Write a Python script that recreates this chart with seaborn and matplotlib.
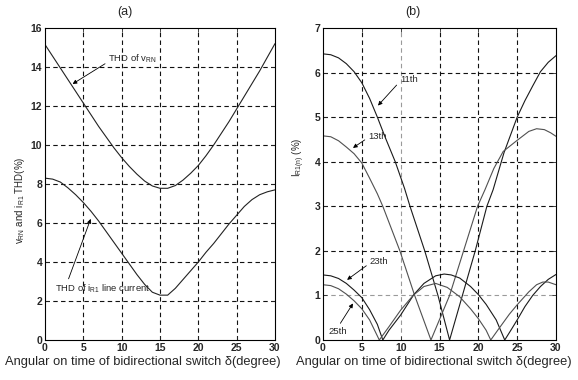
import matplotlib
matplotlib.use("Agg")
import matplotlib.pyplot as plt
import seaborn as sns
import pandas as pd

# ---------------- data ----------------
# (a) THD curves
a_x = list(range(0, 31))
thd_vrn = [15.15, 14.55, 13.95, 13.35, 12.75, 12.15, 11.55, 10.95, 10.4, 9.85, 9.35,
           8.9, 8.5, 8.15, 7.9, 7.78, 7.78, 7.92, 8.2, 8.55, 8.95, 9.45, 10.0, 10.6,
           11.2, 11.85, 12.5, 13.15, 13.8, 14.5, 15.2]
thd_ir1 = [8.3, 8.25, 8.1, 7.8, 7.45, 7.05, 6.6, 6.1, 5.55, 5.0, 4.45, 3.9, 3.35, 2.85,
           2.45, 2.3, 2.3, 2.65, 3.1, 3.55, 4.0, 4.5, 4.95, 5.45, 5.95, 6.4, 6.85, 7.2,
           7.45, 7.6, 7.7]

# (b) harmonic components
h11_x = [0, 1, 2, 3, 4, 5, 6, 7, 8, 9.3, 10.5, 11.2, 13.1, 14.8, 16.3,
         17.95, 19.6, 21.1, 21.9, 23.3, 25.0, 26, 27, 28, 29, 30]
h11_y = [6.42, 6.4, 6.33, 6.2, 6.02, 5.77, 5.42, 5.0, 4.55, 4.0, 3.4, 3.0, 2.0, 1.0, 0.0,
         1.0, 2.0, 3.0, 3.37, 4.2, 5.0, 5.37, 5.7, 6.02, 6.23, 6.38]
h13_x = [0, 1, 2, 3, 4, 5, 6, 7, 7.7, 9.9, 11.8, 13.9, 16.3, 18.1, 19.9, 20.85,
         22, 23.2, 25, 26.5, 27.5, 28.5, 29.3, 30]
h13_y = [4.58, 4.56, 4.47, 4.33, 4.18, 3.97, 3.63, 3.28, 3.0, 2.0, 1.0, 0.0, 1.0, 2.0,
         3.0, 3.37, 3.85, 4.23, 4.48, 4.68, 4.74, 4.72, 4.65, 4.57]
h23_x = [0, 1, 2, 3, 4, 5, 6, 7, 7.7, 8.5, 10, 11.7, 13, 14.5, 15.6, 16.5, 17.6,
         19, 20, 21, 22.3, 23.4, 24.3, 25, 26, 27, 28, 29, 30]
h23_y = [1.46, 1.44, 1.38, 1.27, 1.12, 0.95, 0.68, 0.35, 0.0, 0.22, 0.56, 1.02, 1.27, 1.44,
         1.48, 1.46, 1.39, 1.2, 1.02, 0.8, 0.45, 0.0, 0.25, 0.45, 0.75, 1.0, 1.2, 1.36, 1.47]
h25_x = [0, 1, 2, 3, 4, 5, 6, 7.25, 8.5, 10, 11.6, 13, 14.5, 16, 17.6, 19, 20, 21,
         21.6, 22.5, 24, 25, 26.5, 27.5, 28.3, 29, 30]
h25_y = [1.24, 1.22, 1.15, 1.03, 0.88, 0.70, 0.45, 0.0, 0.3, 0.67, 1.0, 1.2, 1.27, 1.18,
         0.97, 0.7, 0.48, 0.22, 0.0, 0.22, 0.58, 0.79, 1.08, 1.24, 1.3, 1.3, 1.24]

x_ticks = [0, 5, 10, 15, 20, 25, 30]
a_yticks = [0, 2, 4, 6, 8, 10, 12, 14, 16]
b_yticks = [0, 1, 2, 3, 4, 5, 6, 7]
xlabel = "Angular on time of bidirectional switch \u03b4(degree)"

# ---------------- style ----------------
sns.set_theme(style="ticks")
plt.rcParams["font.family"] = ["Liberation Sans", "DejaVu Sans"]
plt.rcParams["mathtext.fontset"] = "custom"
plt.rcParams["mathtext.rm"] = "Liberation Sans"
plt.rcParams["mathtext.it"] = "Liberation Sans"

fig = plt.figure(figsize=(5.78, 3.8), dpi=100)
axA = fig.add_axes([45 / 578, 40 / 380, 230 / 578, 312 / 380])
axB = fig.add_axes([323 / 578, 40 / 380, 233 / 578, 312 / 380])


def draw(ax, x, y, color):
    df = pd.DataFrame({"x": x, "y": y})
    sns.lineplot(data=df, x="x", y="y", ax=ax, color=color, lw=0.8,
                 sort=False, estimator=None, legend=False)


draw(axA, a_x, thd_vrn, "#222222")
draw(axA, a_x, thd_ir1, "#222222")
draw(axB, h11_x, h11_y, "#1a1a1a")
draw(axB, h13_x, h13_y, "#505050")
draw(axB, h23_x, h23_y, "#1a1a1a")
draw(axB, h25_x, h25_y, "#505050")


def style_axes(ax, yticks, ymax, light_x=(), light_y=()):
    ax.set_xlim(0, 30)
    ax.set_ylim(0, ymax)
    ax.set_xticks(x_ticks)
    ax.set_yticks(yticks)
    ax.tick_params(direction="in", length=3, width=0.6, labelsize=7.5,
                   top=True, right=True, pad=2)
    for lab in ax.get_xticklabels() + ax.get_yticklabels():
        lab.set_fontweight("bold")
    for s in ax.spines.values():
        s.set_visible(True)
        s.set_linewidth(0.8)
        s.set_color("black")
    for xv in x_ticks[1:-1]:
        c = "#9a9a9a" if xv in light_x else "#111111"
        ax.axvline(xv, color=c, lw=0.8, ls=(0, (4, 3)), zorder=0)
    for yv in yticks[1:-1]:
        c = "#9a9a9a" if yv in light_y else "#111111"
        ax.axhline(yv, color=c, lw=0.8, ls=(0, (4, 3)), zorder=0)
    ax.set_xlabel("")
    ax.set_ylabel("")


style_axes(axA, a_yticks, 16)
style_axes(axB, b_yticks, 7, light_x=(10,), light_y=(1,))

# labels
fig.text(143 / 578, 1 - 362 / 380, xlabel, ha="center", va="center", fontsize=9.3)
fig.text(434 / 578, 1 - 362 / 380, xlabel, ha="center", va="center", fontsize=9.3)
fig.text(125 / 578, 1 - 12 / 380, "(a)", ha="center", va="center", fontsize=9)
fig.text(413 / 578, 1 - 12 / 380, "(b)", ha="center", va="center", fontsize=9)
fig.text(20 / 578, 1 - 200 / 380,
         r"$\mathregular{v_{RN}}$ and $\mathregular{i_{R1}}$ THD(%)",
         rotation=90, ha="center", va="center", fontsize=7)
fig.text(299 / 578, 1 - 157 / 380, r"$\mathregular{I_{R1(n)}}$ (%)",
         rotation=90, ha="center", va="center", fontsize=7)


def arrow(relpos):
    return dict(arrowstyle="-|>", lw=0.6, color="black", mutation_scale=6,
                shrinkA=0, shrinkB=0, relpos=relpos)


fs = 6.8
axA.annotate(r"THD of $\mathregular{v_{RN}}$", xy=(3.6, 13.13), xytext=(8.26, 14.4),
             fontsize=fs, ha="left", va="center", arrowprops=arrow((0, 0.3)))
axA.annotate(r"THD of $\mathregular{i_{R1}}$ line current", xy=(5.96, 6.21),
             xytext=(1.3, 2.65), fontsize=fs, ha="left", va="center",
             arrowprops=arrow((0.13, 1.0)))
axB.annotate("11th", xy=(7.08, 5.26), xytext=(9.9, 5.84), fontsize=fs,
             ha="left", va="center", arrowprops=arrow((0, 0.3)))
axB.annotate("13th", xy=(3.86, 4.31), xytext=(5.8, 4.56), fontsize=fs,
             ha="left", va="center", arrowprops=arrow((0, 0.4)))
axB.annotate("23th", xy=(3.1, 1.35), xytext=(6.0, 1.76), fontsize=fs,
             ha="left", va="center", arrowprops=arrow((0, 0.3)))
axB.annotate("25th", xy=(3.86, 0.82), xytext=(0.65, 0.2), fontsize=fs,
             ha="left", va="center", arrowprops=arrow((0.55, 1.0)))

fig.savefig("out.png", dpi=100)
